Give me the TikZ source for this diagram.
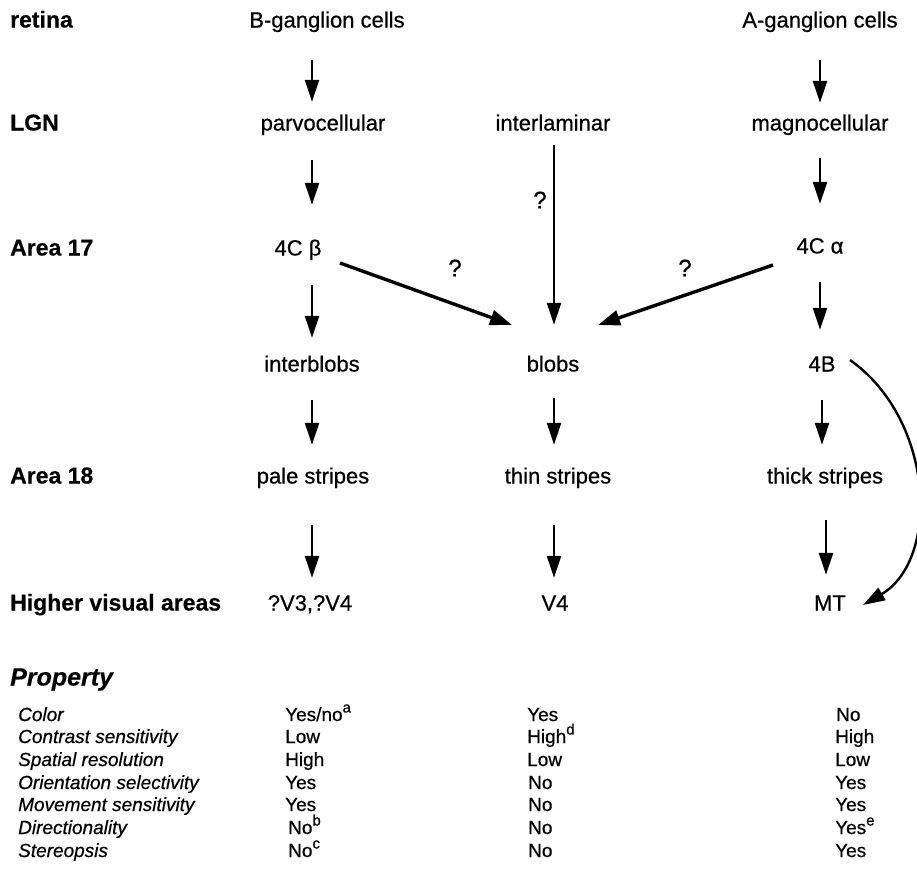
\documentclass[tikz,border=0pt]{standalone}
\usepackage{fontspec}
\setmainfont{Liberation Sans}[FakeBold=0.6]
\newfontfamily\headfont{Liberation Sans}[FakeBold=0.4]
\usetikzlibrary{arrows.meta}
% footnote marks in the table
\newcommand{\fnmark}[1]{\raisebox{0.45em}{\fontsize{15}{15}\selectfont #1}}
\begin{document}
\begin{tikzpicture}[x=1pt,y=-1pt,
  lbl/.style={font=\fontsize{22}{26}\selectfont, inner sep=0pt, text height=16pt, text depth=5pt},
  rowhead/.style={font=\headfont\bfseries\fontsize{23}{26}\selectfont, anchor=west, inner sep=0pt, text height=16pt, text depth=5pt},
  qmark/.style={font=\fontsize{24}{26}\selectfont, inner sep=0pt},
  flow/.style={line width=2.4pt, -{Triangle[length=22pt,width=14pt]}},
  slant/.style={line width=3.4pt, -{Triangle[length=22pt,width=15pt]}},
  prophead/.style={font=\headfont\bfseries\itshape\fontsize{25}{28}\selectfont, anchor=west, inner sep=0pt, text height=17pt, text depth=6pt},
  prop/.style={font=\itshape\fontsize{19}{22}\selectfont, anchor=west, inner sep=0pt, text height=14pt, text depth=4pt},
  val/.style={font=\fontsize{19}{22}\selectfont, anchor=west, inner sep=0pt, text height=14pt, text depth=4pt}]
\useasboundingbox (0,0) rectangle (917,889);

% arrow columns
\coordinate (c1) at (312,0);
\coordinate (c2) at (554,0);
\coordinate (c3) at (820,0);

% row headings
\node[rowhead] (hretina) at (10,22) {retina};
\node[rowhead] (hlgn)    at (10,125) {LGN};
\node[rowhead] (ha17)    at (10,250) {Area 17};
\node[rowhead] (ha18)    at (10,478) {Area 18};
\node[rowhead] (hhigh)   at (10,605) {Higher visual areas};

% pathway nodes
\node[lbl] (bgang)  at (327,22)  {B-ganglion cells};
\node[lbl] (agang)  at (820,22)  {A-ganglion cells};
\node[lbl] (parvo)  at (323,125) {parvocellular};
\node[lbl] (inter)  at (553,125) {interlaminar};
\node[lbl] (magno)  at (820,125) {magnocellular};
\node[lbl] (fcb)    at (298,250) {4C β};
\node[lbl] (fca)    at (820,248) {4C α};
\node[lbl] (iblobs) at (312,366) {interblobs};
\node[lbl] (blobs)  at (553,366) {blobs};
\node[lbl] (fb)     at (822,366) {4B};
\node[lbl] (pale)   at (313,478) {pale stripes};
\node[lbl] (thin)   at (558,478) {thin stripes};
\node[lbl] (thick)  at (825,478) {thick stripes};
\node[lbl] (v34)    at (310,605) {?V3,?V4};
\node[lbl] (v4)     at (555,605) {V4};
\node[lbl] (mt)     at (830,605) {MT};

% vertical projections
\draw[flow, shorten <=27.5pt, shorten >=12.5pt] (c1 |- bgang.south) -- (c1 |- parvo.north);
\draw[flow, shorten <=27.5pt, shorten >=11.5pt] (c3 |- agang.south) -- (c3 |- magno.north);
\draw[flow, shorten <=24.5pt, shorten >=34.5pt] (c1 |- parvo.south) -- (c1 |- fcb.north);
\draw[flow, shorten <=22.5pt, shorten >=33.5pt] (c3 |- magno.south) -- (c3 |- fca.north);
\draw[flow, shorten <=9.5pt, shorten >=30.5pt]  (c2 |- inter.south) -- (c2 |- blobs.north);
\draw[flow, shorten <=24.5pt, shorten >=17.5pt] (c1 |- fcb.south) -- (c1 |- iblobs.north);
\draw[flow, shorten <=23.5pt, shorten >=25.5pt] (c3 |- fca.south) -- (c3 |- fb.north);
\draw[flow, shorten <=23.5pt, shorten >=22.5pt] (c1 |- iblobs.south) -- (c1 |- pale.north);
\draw[flow, shorten <=21.5pt, shorten >=22.5pt] (c2 |- blobs.south) -- (c2 |- thin.north);
\draw[flow, shorten <=23.5pt, shorten >=22.5pt] ([shift={(2,0)}]c3 |- fb.south) -- ([shift={(2,0)}]c3 |- thick.north);
\draw[flow, shorten <=36.5pt, shorten >=16.5pt] (c1 |- pale.south) -- (c1 |- v34.north);
\draw[flow, shorten <=36.5pt, shorten >=16.5pt] (c2 |- thin.south) -- (c2 |- v4.north);
\draw[flow, shorten <=31.5pt, shorten >=19.5pt] ([shift={(6,0)}]c3 |- thick.south) -- ([shift={(6,0)}]c3 |- mt.north);

% uncertain inputs to the blobs
\draw[slant] ([shift={(42,13)}]fcb.center) -- ([shift={(-41,-41)}]blobs.center);
\draw[slant] ([shift={(-47,17)}]fca.center) -- ([shift={(45,-41)}]blobs.center);
\node[qmark] (q1) at (455,268) {?};
\node[qmark] (q2) at (685,268) {?};
\node[qmark] (q3) at (540,200) {?};

% direct 4B to MT route
\draw[flow] ([shift={(28,-6)}]fb.center) .. controls (935,420) and (940,560) .. ([shift={(33,0)}]mt.center);

% property table
\node[prophead] (phead) at (10,680) {Property};
\node[prop] (p1) at (18,716) {Color};
\node[prop] (p2) at (18,738) {Contrast sensitivity};
\node[prop] (p3) at (18,761) {Spatial resolution};
\node[prop] (p4) at (18,784) {Orientation selectivity};
\node[prop] (p5) at (18,806) {Movement sensitivity};
\node[prop] (p6) at (18,829) {Directionality};
\node[prop] (p7) at (18,852) {Stereopsis};

\node[val] (a1) at (285,716) {Yes/no\fnmark{a}};
\node[val] (a2) at (285,738) {Low};
\node[val] (a3) at (285,761) {High};
\node[val] (a4) at (285,784) {Yes};
\node[val] (a5) at (285,806) {Yes};
\node[val] (a6) at (288,829) {No\fnmark{b}};
\node[val] (a7) at (288,852) {No\fnmark{c}};

\node[val] (b1) at (527,716) {Yes};
\node[val] (b2) at (527,738) {High\fnmark{d}};
\node[val] (b3) at (527,761) {Low};
\node[val] (b4) at (528,784) {No};
\node[val] (b5) at (528,806) {No};
\node[val] (b6) at (528,829) {No};
\node[val] (b7) at (528,852) {No};

\node[val] (d1) at (836,716) {No};
\node[val] (d2) at (835,738) {High};
\node[val] (d3) at (835,761) {Low};
\node[val] (d4) at (835,784) {Yes};
\node[val] (d5) at (835,806) {Yes};
\node[val] (d6) at (835,829) {Yes\fnmark{e}};
\node[val] (d7) at (835,852) {Yes};
\end{tikzpicture}
\end{document}
